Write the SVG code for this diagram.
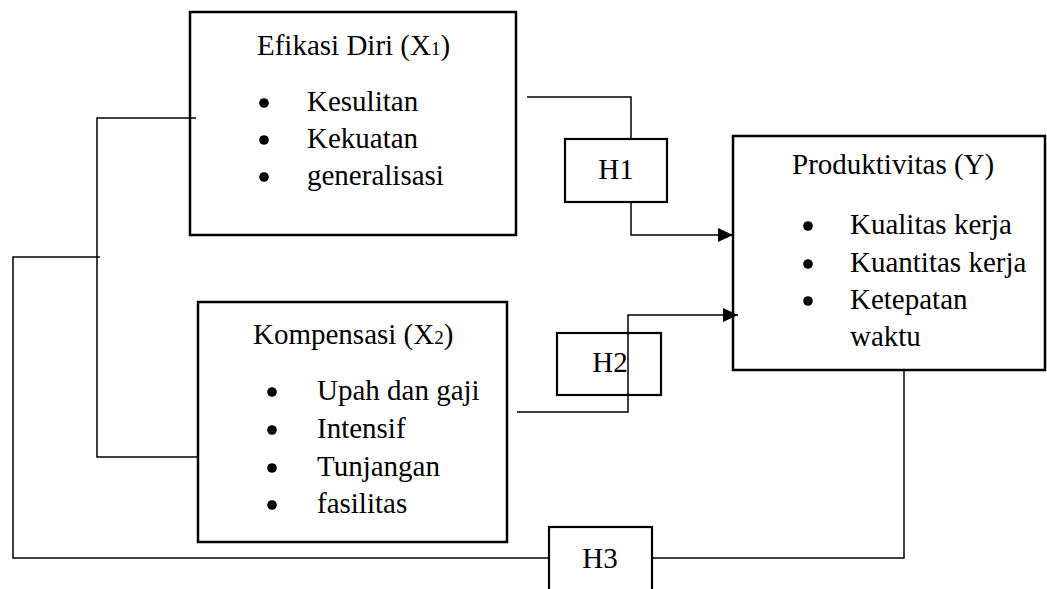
<svg xmlns="http://www.w3.org/2000/svg" width="1047" height="589" viewBox="0 0 1047 589">
<style>
  .box { fill: #ffffff; stroke: #000000; stroke-width: 2.5; }
  .hbox { fill: #ffffff; stroke: #000000; stroke-width: 2.2; }
  .t { font-family: "Liberation Serif", "Times New Roman", serif; font-size: 29px; fill: #000000; }
  .sub { font-size: 19px; }
  .dot { fill: #000000; }
  .ln { fill: none; stroke: #000000; stroke-width: 1.5; }
</style>
<defs>
  <marker id="arr" markerUnits="userSpaceOnUse" markerWidth="16" markerHeight="14" refX="15" refY="7" orient="auto">
    <path d="M0,0 L15,7 L0,14 Z" fill="#000000"/>
  </marker>
</defs>
<rect width="1047" height="589" fill="#ffffff"/>

<g id="efikasi">
  <rect class="box" x="190" y="12" width="326" height="223"/>
  <text class="t" x="257" y="55">Efikasi Diri (X<tspan class="sub">1</tspan>)</text>
  <circle class="dot" cx="264" cy="103" r="4.8"/>
  <text class="t" x="307" y="111">Kesulitan</text>
  <circle class="dot" cx="264" cy="140" r="4.8"/>
  <text class="t" x="307" y="148">Kekuatan</text>
  <circle class="dot" cx="264" cy="177" r="4.8"/>
  <text class="t" x="307" y="185">generalisasi</text>
</g>

<g id="kompensasi">
  <rect class="box" x="198" y="302" width="309" height="240"/>
  <text class="t" x="253" y="344">Kompensasi (X<tspan class="sub">2</tspan>)</text>
  <circle class="dot" cx="272" cy="392" r="4.8"/>
  <text class="t" x="317" y="400">Upah dan gaji</text>
  <circle class="dot" cx="272" cy="430" r="4.8"/>
  <text class="t" x="317" y="438">Intensif</text>
  <circle class="dot" cx="272" cy="468" r="4.8"/>
  <text class="t" x="317" y="476">Tunjangan</text>
  <circle class="dot" cx="272" cy="505" r="4.8"/>
  <text class="t" x="317" y="513">fasilitas</text>
</g>

<g id="produktivitas">
  <rect class="box" x="733" y="136" width="312" height="234"/>
  <text class="t" x="792" y="174">Produktivitas (Y)</text>
  <circle class="dot" cx="808" cy="226" r="4.8"/>
  <text class="t" x="850" y="234">Kualitas kerja</text>
  <circle class="dot" cx="808" cy="264" r="4.8"/>
  <text class="t" x="850" y="272">Kuantitas kerja</text>
  <circle class="dot" cx="808" cy="301" r="4.8"/>
  <text class="t" x="850" y="309">Ketepatan</text>
  <text class="t" x="850" y="346">waktu</text>
</g>

<g id="h1">
  <rect class="hbox" x="565" y="139" width="102" height="63"/>
  <text class="t" x="616" y="179" text-anchor="middle">H1</text>
</g>

<g id="h2">
  <rect class="hbox" x="557" y="333" width="104" height="62"/>
  <text class="t" x="610" y="372" text-anchor="middle">H2</text>
</g>

<g id="h3">
  <rect class="hbox" x="549" y="527" width="103" height="64"/>
  <text class="t" x="600" y="568" text-anchor="middle">H3</text>
</g>

<g id="connectors">
  <polyline class="ln" points="196,118 97,118 97,457 197,457"/>
  <polyline class="ln" points="100,257 13,257 13,558 549,558"/>
  <polyline class="ln" points="652,558 904,558 904,370"/>
  <polyline class="ln" points="527,97 631,97 631,139"/>
  <polyline class="ln" points="631,202 631,235 733,235" marker-end="url(#arr)"/>
  <polyline class="ln" points="517,412 628,412 628,315 738,315" marker-end="url(#arr)"/>
</g>
</svg>
